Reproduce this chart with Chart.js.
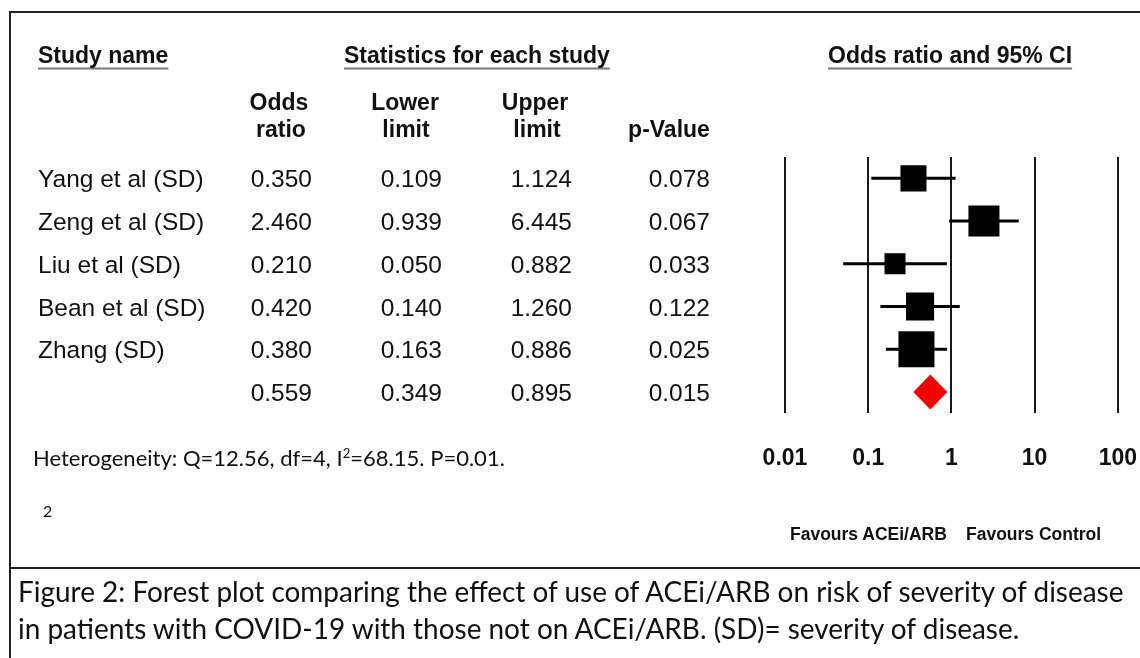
<!DOCTYPE html>
<html lang="en">
<head>
<meta charset="UTF-8">
<title>Forest plot: ACEi/ARB and severity of disease</title>
<script src="https://cdn.jsdelivr.net/npm/chart.js"></script>
<style>
  html, body { margin: 0; padding: 0; background: #fff; }
  #page { position: relative; width: 1140px; height: 658px; overflow: hidden; background: #fff; }
  #chart { position: absolute; left: 0; top: 0; }
  .t { position: absolute; white-space: nowrap; line-height: 1; color: #111;
       font-family: "Liberation Sans", Arial, sans-serif; font-size: 24.5px; }
  .hd { font-weight: bold; font-size: 23px; }
  .ul { text-decoration: underline; text-decoration-color: #777;
        text-decoration-thickness: 2px; text-underline-offset: 5px; }
  .fav { font-weight: bold; font-size: 17.5px; }
  .cal { font-family: Lato, "Open Sans", sans-serif; }
  .rule { position: absolute; background: #222; }
  sup { font-size: 0.6em; line-height: 0; }
</style>
</head>
<body>
<div id="page">
  <!-- canvas is a bit wider than the page: the axis reserves tick padding past the last label -->
  <canvas id="chart" width="1168" height="658"></canvas>
  <div class="rule" style="left:10px; top:11px; width:1130px; height:2px;"></div>
  <div class="rule" style="left:9px; top:11px; width:2px; height:647px;"></div>
  <div class="rule" style="left:10px; top:567px; width:1130px; height:2px;"></div>
</div>

<script>
// study data
const studies    = ['Yang et al (SD)', 'Zeng et al (SD)', 'Liu et al (SD)', 'Bean et al (SD)', 'Zhang (SD)'];
const oddsRatio  = [0.350, 2.460, 0.210, 0.420, 0.380];
const lowerLimit = [0.109, 0.939, 0.050, 0.140, 0.163];
const upperLimit = [1.124, 6.445, 0.882, 1.260, 0.886];
const pValue     = [0.078, 0.067, 0.033, 0.122, 0.025];
// relative weights (%), estimated from the square areas
const relWeight  = [16.3, 23.1, 10.6, 18.9, 31.2];

// pooled estimate
const pooledOR    = 0.559;
const pooledLower = 0.349;
const pooledUpper = 0.895;
const pooledP     = 0.015;

// axis
const tickValues = [0.01, 0.1, 1, 10, 100];
const tickLabels = ['0.01', '0.1', '1', '10', '100'];

const page = document.getElementById('page');

function place(html, x, y, cls, align) {
    const el = document.createElement('div');
    el.className = 't ' + (cls || '');
    el.innerHTML = html;
    el.style.left = x + 'px';
    el.style.top = y + 'px';
    const tx = align === 'right' ? '-100%' : align === 'center' ? '-50%' : '0';
    el.style.transform = `translate(${tx}, -50%)`;
    page.appendChild(el);
    return el;
}

// squeeze/stretch a text line to the width it has in the figure
function fitWidth(el, w) {
    const fs = parseFloat(getComputedStyle(el).fontSize);
    el.style.fontSize = (fs * w / el.getBoundingClientRect().width) + 'px';
}

// draws the pooled diamond from the summary values
const diamondPlugin = {
    id: 'pooledDiamond',
    afterDatasetsDraw(chart) {
        const { ctx, scales: { x, y } } = chart;
        const cy = y.getPixelForValue(studies.length);
        const h = 17.5;
        ctx.save();
        ctx.beginPath();
        ctx.moveTo(x.getPixelForValue(pooledLower), cy);
        ctx.lineTo(x.getPixelForValue(pooledOR), cy - h);
        ctx.lineTo(x.getPixelForValue(pooledUpper), cy);
        ctx.lineTo(x.getPixelForValue(pooledOR), cy + h);
        ctx.closePath();
        ctx.fillStyle = '#f00000';
        ctx.fill();
        ctx.restore();
    }
};

const datasets = [{
    label: 'Odds ratio',
    data: studies.map((s, i) => ({ x: oddsRatio[i], y: i })),
    pointStyle: 'rect',
    pointRadius: ctx => 6.45 * Math.sqrt(relWeight[ctx.dataIndex]) / (2 * Math.SQRT1_2),
    pointBackgroundColor: '#000',
    pointBorderWidth: 0
}];
studies.forEach((s, i) => {
    datasets.push({
        label: s + ' 95% CI',
        data: [{ x: lowerLimit[i], y: i }, { x: upperLimit[i], y: i }],
        showLine: true,
        borderColor: '#000',
        borderWidth: 3,
        pointRadius: 0
    });
});

const chart = new Chart(document.getElementById('chart'), {
    type: 'scatter',
    data: { datasets },
    options: {
        responsive: false,
        animation: false,
        events: [],
        layout: { padding: { left: 785, right: 22, top: 157, bottom: 155 } },
        plugins: { legend: { display: false }, tooltip: { enabled: false } },
        scales: {
            x: {
                type: 'logarithmic',
                min: 0.01,
                max: 100,
                afterBuildTicks: axis => { axis.ticks = tickValues.map(v => ({ value: v })); },
                ticks: {
                    autoSkip: false,
                    maxRotation: 0,
                    padding: 31,
                    color: '#111',
                    font: { family: '"Liberation Sans", Arial, sans-serif', size: 23, weight: 'bold' },
                    callback: (v, i) => tickLabels[i]
                },
                grid: { color: '#1a1a1a', lineWidth: 2, drawTicks: false },
                border: { display: false }
            },
            y: {
                type: 'linear',
                min: -0.5,
                max: studies.length + 0.5,
                reverse: true,
                display: false
            }
        }
    },
    plugins: [diamondPlugin]
});

// table to the left of the plot
place('Study name', 38, 55, 'hd ul');
place('Statistics for each study', 344, 55, 'hd ul');
place('Odds ratio and 95% CI', 828, 55, 'hd ul');

place('Odds', 279, 102, 'hd', 'center');
place('ratio', 281, 129, 'hd', 'center');
place('Lower', 405, 102, 'hd', 'center');
place('limit', 406, 129, 'hd', 'center');
place('Upper', 535, 102, 'hd', 'center');
place('limit', 537, 129, 'hd', 'center');
place('p-Value', 669, 129, 'hd', 'center');

const ys = chart.scales.y;
studies.forEach((s, i) => {
    const y = ys.getPixelForValue(i) + 1;
    place(s, 38, y);
    place(oddsRatio[i].toFixed(3), 312, y, '', 'right');
    place(lowerLimit[i].toFixed(3), 442, y, '', 'right');
    place(upperLimit[i].toFixed(3), 572, y, '', 'right');
    place(pValue[i].toFixed(3), 710, y, '', 'right');
});
const yp = ys.getPixelForValue(studies.length) + 1;
place(pooledOR.toFixed(3), 312, yp, '', 'right');
place(pooledLower.toFixed(3), 442, yp, '', 'right');
place(pooledUpper.toFixed(3), 572, yp, '', 'right');
place(pooledP.toFixed(3), 710, yp, '', 'right');

const het = place('Heterogeneity: Q=12.56, df=4, I<sup>2</sup>=68.15. P=0.01.', 33, 458, 'cal');
het.style.fontSize = '19px';
fitWidth(het, 472);
const two = place('2', 43, 511, 'cal');
two.style.fontSize = '16px';

place('Favours ACEi/ARB', 790, 535, 'fav');
place('Favours Control', 966, 535, 'fav');

const cap1 = place('Figure 2: Forest plot comparing the effect of use of ACEi/ARB on risk of severity of disease', 18, 592, 'cal');
cap1.style.fontSize = '24px';
fitWidth(cap1, 1106);
const cap2 = place('in patients with COVID-19 with those not on ACEi/ARB. (SD)= severity of disease.', 18, 629, 'cal');
cap2.style.fontSize = cap1.style.fontSize;
</script>
</body>
</html>
